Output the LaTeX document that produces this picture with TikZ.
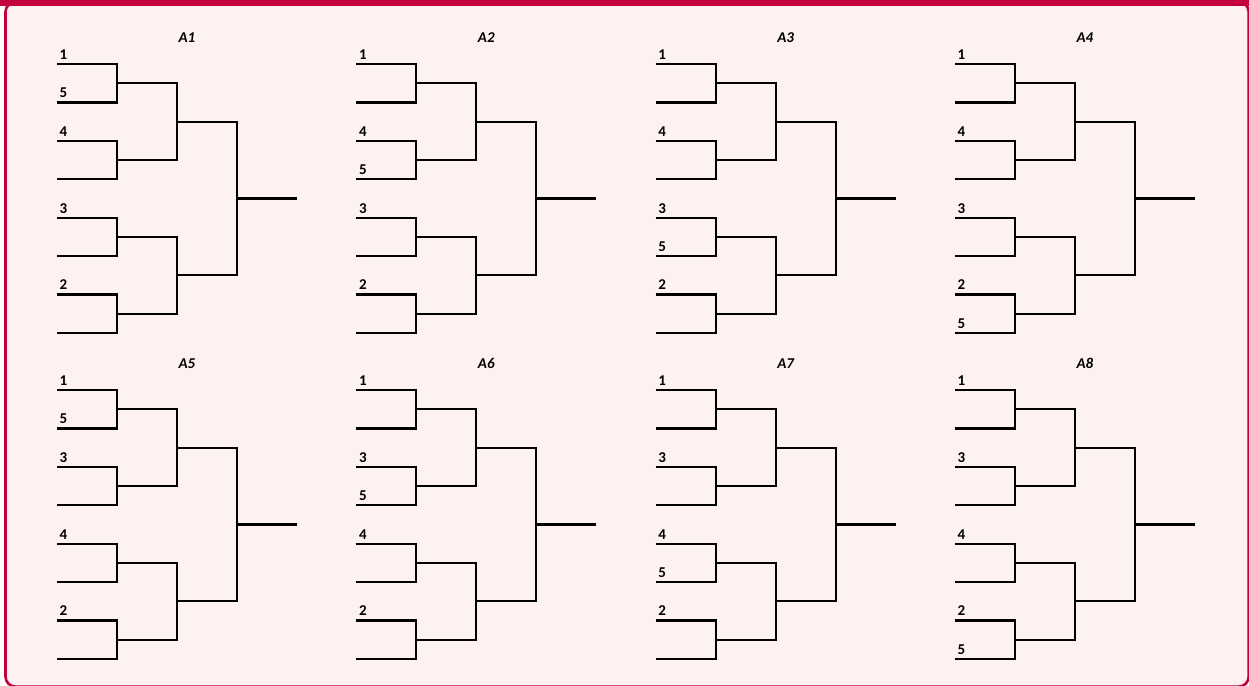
\documentclass[tikz,border=0pt]{standalone}
\usepackage{fontspec}
\setmainfont{Carlito}
\usepackage{tikz}
\definecolor{framered}{HTML}{C4003F}
\definecolor{sheetpink}{HTML}{FDF1F1}

\begin{document}
\begin{tikzpicture}[x=1pt,y=-1pt,line cap=butt,line join=miter,
  bracketline/.style={line width=2.2pt,black},
  seedlabel/.style={font=\fontsize{15}{17}\selectfont\bfseries,anchor=base west,inner sep=0pt},
  poollabel/.style={font=\fontsize{15}{17}\selectfont\bfseries\itshape,anchor=base,inner sep=0pt}]
  % Sheet and frame.
  \useasboundingbox (0,0) rectangle (1249,685);
  \fill[white] (0,0) rectangle (1249,685);
  \draw[framered,line width=2.6pt,fill=sheetpink,rounded corners=10pt] (5.5,2) rectangle (1248.7,686.6);
  \fill[framered] (0,0) rectangle (1249,6.5);

  % Eight pools, four per row.
  \foreach \col/\row/\pool/\seeds in {0/0/A1/{0/1,1/5,2/4,4/3,6/2},1/0/A2/{0/1,2/4,3/5,4/3,6/2},
      2/0/A3/{0/1,2/4,4/3,5/5,6/2},3/0/A4/{0/1,2/4,4/3,6/2,7/5},0/1/A5/{0/1,1/5,2/3,4/4,6/2},
      1/1/A6/{0/1,2/3,3/5,4/4,6/2},2/1/A7/{0/1,2/3,4/4,5/5,6/2},3/1/A8/{0/1,2/3,4/4,6/2,7/5}}{
    \begin{scope}[shift={(57+299.3*\col,64+326*\row)}]
      \node[poollabel] (\pool) at (130,-22) {\pool};
      % First round.
      \foreach \j in {0,...,3}
        \draw[bracketline] (0,76.8*\j) -- (60,76.8*\j) -- (60,76.8*\j+38.4) -- (0,76.8*\j+38.4);
      % Semifinals.
      \foreach \j in {0,1}
        \draw[bracketline] (60,153.6*\j+19.2) -- (120,153.6*\j+19.2) -- (120,153.6*\j+96) -- (60,153.6*\j+96);
      % Final and winner.
      \draw[bracketline] (120,57.6) -- (180,57.6) -- (180,211.2) -- (120,211.2);
      \draw[bracketline] (180,134.4) -- (240,134.4);
      \foreach \k/\lab in \seeds
        \node[seedlabel] (\pool-\k) at (2.5,38.4*\k-4.5) {\lab};
    \end{scope}
  }
\end{tikzpicture}
\end{document}
